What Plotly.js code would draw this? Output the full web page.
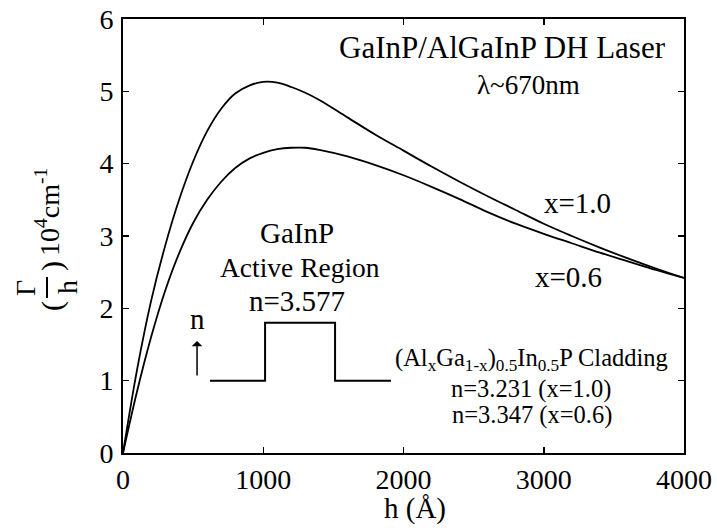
<!DOCTYPE html>
<html>
<head>
<meta charset="utf-8">
<script src="https://cdn.plot.ly/plotly-3.0.1.min.js"></script>
<style>
html,body{margin:0;padding:0;background:#fff;}
#chart{width:717px;height:528px;}
</style>
</head>
<body>
<div id="chart"></div>
<script>
// thickness h (Angstrom)
var thickness = [0, 100, 200, 300, 400, 500, 600, 700, 800, 900, 1000, 1100, 1200, 1300, 1400,
                 1600, 1800, 2000, 2200, 2400, 2600, 2800, 3000, 3200, 3400, 3600, 3800, 4000];
// Gamma/h (10^4 cm^-1), x = 1.0 cladding
var gammaX10 = [0, 1.15, 2.1, 2.86, 3.5, 4.03, 4.45, 4.76, 4.97, 5.08, 5.13, 5.12, 5.06, 4.98, 4.88,
                4.64, 4.40, 4.18, 3.96, 3.75, 3.55, 3.36, 3.17, 3.0, 2.84, 2.69, 2.55, 2.42];
// Gamma/h (10^4 cm^-1), x = 0.6 cladding
var gammaX06 = [0, 0.85, 1.6, 2.24, 2.76, 3.18, 3.5, 3.75, 3.94, 4.07, 4.15, 4.2, 4.22, 4.22, 4.19,
                4.10, 3.98, 3.84, 3.68, 3.51, 3.33, 3.17, 3.03, 2.90, 2.77, 2.65, 2.53, 2.42];
// schematic refractive-index profile (n, arbitrary units)
var profileH = [620, 1013, 1013, 1512, 1512, 1911];
var profileN = [1.0, 1.0, 1.8, 1.8, 1.0, 1.0];

var xTicks = [0, 1000, 2000, 3000, 4000];
var yTicks = [0, 1, 2, 3, 4, 5, 6];

var FONT = "Liberation Serif";

var traces = [
  {x: thickness, y: gammaX10, mode: 'lines', line: {color: '#000', width: 1.8, shape: 'spline', smoothing: 1}, name: 'x=1.0'},
  {x: thickness, y: gammaX06, mode: 'lines', line: {color: '#000', width: 1.8, shape: 'spline', smoothing: 1}, name: 'x=0.6'},
  {x: profileH, y: profileN, mode: 'lines', line: {color: '#000', width: 2}, name: 'n profile'}
];

var L = 123, R = 684, T = 19, B = 453;
function px(p) { return (p - L) / (R - L); }
function py(p) { return (B - p) / (B - T); }

function txt(text, x, y, size, extra) {
  var a = {text: text, x: x, y: y, xref: 'x', yref: 'y', showarrow: false,
           font: {family: FONT, size: size, color: '#000'}, xanchor: 'center', yanchor: 'middle'};
  for (var k in extra) a[k] = extra[k];
  return a;
}
function ptxt(text, x, y, size, extra) {
  var a = {text: text, x: px(x), y: py(y), xref: 'paper', yref: 'paper', showarrow: false,
           font: {family: FONT, size: size, color: '#000'}, xanchor: 'center', yanchor: 'middle'};
  for (var k in extra) a[k] = extra[k];
  return a;
}

var annotations = [
  txt('GaInP/AlGaInP DH Laser', 2709, 5.61, 31),
  txt('λ~670nm', 2888, 5.09, 27),
  txt('x=1.0', 3244, 3.46, 29),
  txt('x=0.6', 3173, 2.43, 29),
  txt('GaInP', 1241, 3.04, 29),
  txt('Active Region', 1262, 2.56, 27.5),
  txt('n=3.577', 1241, 2.10, 29),
  txt('n', 528, 1.85, 29),
  txt('(Al<sub>x</sub>Ga<sub>1-x</sub>)<sub>0.5</sub>In<sub>0.5</sub>P Cladding', 2916, 1.29, 24.5),
  txt('n=3.231 (x=1.0)', 2909, 0.88, 24.5),
  txt('n=3.347 (x=0.6)', 2916, 0.53, 24.5),
  {x: 528, y: 1.55, xref: 'x', yref: 'y', ax: 0, ay: 36, axref: 'pixel', ayref: 'pixel',
   text: '', showarrow: true, arrowhead: 1, arrowsize: 1.2, arrowwidth: 1.5, arrowcolor: '#000'},
  // x axis title
  ptxt('h (Å)', 415, 508, 29),
  // y axis title pieces
  ptxt('Γ', 26, 288, 28, {textangle: -90}),
  ptxt('h', 67, 287, 28, {textangle: -90}),
  ptxt('(', 52, 306, 30, {textangle: -90}),
  ptxt(')', 52, 266, 30, {textangle: -90}),
  ptxt('10<sup>4</sup>cm<sup>-1</sup>', 47, 212, 28, {textangle: -90})
];

var shapes = [
  {type: 'line', xref: 'paper', yref: 'paper', x0: px(47), x1: px(47), y0: py(277), y1: py(298),
   line: {color: '#000', width: 2}}
];

var layout = {
  width: 717, height: 528,
  margin: {l: L, r: 717 - R, t: T, b: 528 - B, pad: 0},
  paper_bgcolor: '#fff', plot_bgcolor: '#fff',
  showlegend: false,
  font: {family: FONT, color: '#000'},
  xaxis: {
    range: [0, 4000], tickvals: xTicks, ticktext: xTicks.map(String),
    ticks: 'inside', ticklen: 6, tickwidth: 1.5, tickcolor: '#000',
    showline: true, linecolor: '#000', linewidth: 2, mirror: 'ticks',
    showgrid: false, zeroline: false,
    tickfont: {family: FONT, size: 28, color: '#000'}, ticklabelstandoff: 0
  },
  yaxis: {
    range: [0, 6], tickvals: yTicks, ticktext: yTicks.map(String),
    ticks: 'inside', ticklen: 6, tickwidth: 1.5, tickcolor: '#000',
    showline: true, linecolor: '#000', linewidth: 2, mirror: 'ticks',
    showgrid: false, zeroline: false,
    tickfont: {family: FONT, size: 28, color: '#000'}, ticklabelstandoff: 2
  },
  annotations: annotations,
  shapes: shapes
};

Plotly.newPlot('chart', traces, layout, {staticPlot: true, displayModeBar: false});
</script>
</body>
</html>
